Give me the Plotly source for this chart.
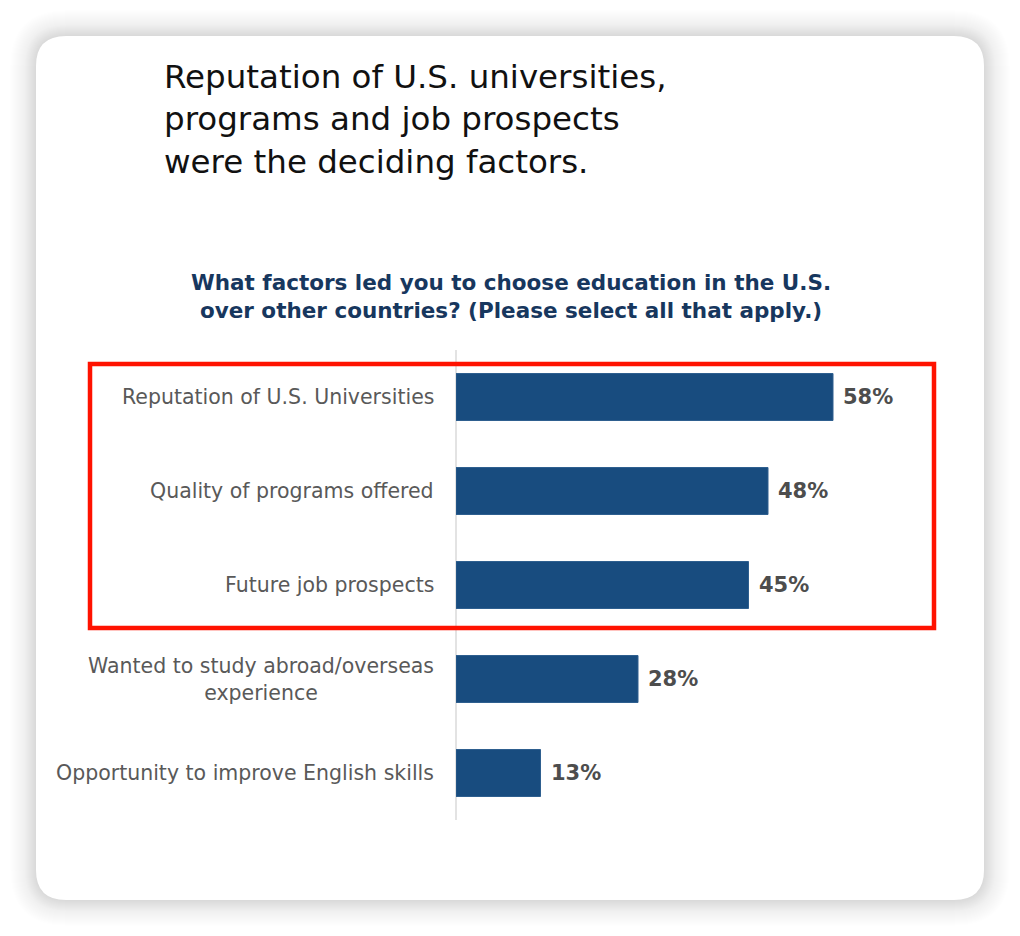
import plotly.graph_objects as go

categories = [
    "Reputation of U.S. Universities",
    "Quality of programs offered",
    "Future job prospects",
    "Wanted to study abroad/overseas<br>experience",
    "Opportunity to improve English skills",
]
values = [58, 48, 45, 28, 13]
value_labels = ["58%", "48%", "45%", "28%", "13%"]

headline = "Reputation of U.S. universities,<br>programs and job prospects<br>were the deciding factors."
question = "What factors led you to choose education in the U.S.<br>over other countries? (Please select all that apply.)"

OFF = 8  # page body margin
W, H = 1012, 928
# plot area in reference-page pixels
PX0, PX1, PY0, PY1 = 456, 976, 350, 820
L, T = PX0 - OFF, PY0 - OFF
R = W - (PX1 - OFF)
B = H - (PY1 - OFF)
PW, PH = PX1 - PX0, PY1 - PY0

FONT = "DejaVu Sans"


def px(x):
    return (x - PX0) / PW


def py(y):
    return (PY1 - y) / PH


def rounded_rect(x0, y0, x1, y1, r):
    X0, X1 = px(x0), px(x1)
    Y0, Y1 = py(y0), py(y1)
    rx = r / PW
    ry = r / PH
    return (
        f"M {X0 + rx},{Y0} L {X1 - rx},{Y0} Q {X1},{Y0} {X1},{Y0 - ry} "
        f"L {X1},{Y1 + ry} Q {X1},{Y1} {X1 - rx},{Y1} L {X0 + rx},{Y1} "
        f"Q {X0},{Y1} {X0},{Y1 + ry} L {X0},{Y0 - ry} Q {X0},{Y0} {X0 + rx},{Y0} Z"
    )


fig = go.Figure()
fig.add_trace(
    go.Bar(
        x=values,
        y=categories,
        orientation="h",
        marker=dict(color="#184c7f", line=dict(color="#2e5f8f", width=1)),
        width=0.5,
        hoverinfo="skip",
    )
)

shapes = []
# soft shadow (eased falloff)
N = 34
for i in range(N, 0, -1):
    a = 0.00026 * (N - i + 0.5)
    shapes.append(
        dict(
            type="path",
            xref="paper",
            yref="paper",
            path=rounded_rect(36 - i, 36 - i, 984 + i, 900 + i, 30 + i),
            fillcolor=f"rgba(0,0,0,{a:.5f})",
            line=dict(width=0),
            layer="below",
        )
    )
# card
shapes.append(
    dict(
        type="path",
        xref="paper",
        yref="paper",
        path=rounded_rect(36, 36, 984, 900, 30),
        fillcolor="#ffffff",
        line=dict(width=0),
        layer="below",
    )
)
# highlight box
shapes.append(
    dict(
        type="rect",
        xref="paper",
        yref="paper",
        x0=px(90),
        x1=px(934),
        y0=py(364),
        y1=py(628),
        line=dict(color="#ff1200", width=4.5),
        fillcolor="rgba(0,0,0,0)",
        layer="above",
    )
)

annotations = [
    dict(
        text=headline,
        xref="paper",
        yref="paper",
        x=px(162),
        y=py(56),
        xanchor="left",
        yanchor="top",
        align="left",
        showarrow=False,
        font=dict(family=FONT, size=32.5, color="#111111"),
    ),
    dict(
        text="<b>" + question + "</b>",
        xref="paper",
        yref="paper",
        x=px(511),
        y=py(268),
        xanchor="center",
        yanchor="top",
        align="center",
        showarrow=False,
        font=dict(family=FONT, size=21.5, color="#17375e"),
    ),
]
for c in categories:
    annotations.append(
        dict(
            text=c,
            x=0,
            y=c,
            xref="x",
            yref="y",
            xanchor="right",
            yanchor="middle",
            align="center",
            xshift=-20,
            showarrow=False,
            font=dict(family=FONT, size=20.5, color="#595959"),
        )
    )
for c, v, t in zip(categories, values, value_labels):
    annotations.append(
        dict(
            text="<b>" + t + "</b>",
            x=v,
            y=c,
            xref="x",
            yref="y",
            xanchor="left",
            yanchor="middle",
            xshift=8,
            showarrow=False,
            font=dict(family=FONT, size=21, color="#4d4d4d"),
        )
    )

fig.update_layout(
    width=W,
    height=H,
    margin=dict(l=L, r=R, t=T, b=B, pad=0),
    paper_bgcolor="#ffffff",
    plot_bgcolor="rgba(0,0,0,0)",
    showlegend=False,
    shapes=shapes,
    annotations=annotations,
    xaxis=dict(
        range=[0, 80],
        showgrid=False,
        zeroline=True,
        zerolinecolor="#e3e3e3",
        zerolinewidth=1.5,
        showticklabels=False,
        showline=False,
        fixedrange=True,
    ),
    yaxis=dict(
        autorange="reversed",
        showticklabels=False,
        showgrid=False,
        zeroline=False,
        showline=False,
        fixedrange=True,
    ),
)

fig.write_html("out.html")
